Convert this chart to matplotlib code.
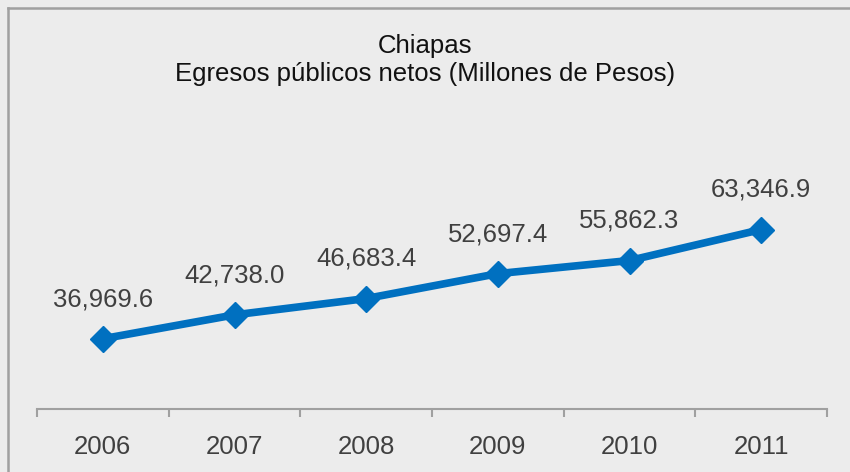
import matplotlib
matplotlib.use('Agg')
import matplotlib.pyplot as plt
from matplotlib.lines import Line2D

# datos
anios = ['2006', '2007', '2008', '2009', '2010', '2011']
egresos = [36969.6, 42738.0, 46683.4, 52697.4, 55862.3, 63346.9]
titulo = 'Chiapas\nEgresos públicos netos (Millones de Pesos)'

plt.rcParams['font.family'] = ['Liberation Sans', 'DejaVu Sans']
fondo = '#ECECEC'
gris_texto = '#404040'

fig = plt.figure(figsize=(8.5, 4.72), dpi=100, facecolor=fondo)
ax = fig.add_axes([37/850, 1 - 409/472, 790/850, 207/472])
ax.set_facecolor(fondo)

x = list(range(len(anios)))
ax.plot(x, egresos, color='#0070C0', linewidth=5.5, marker='D', markersize=13,
        markeredgecolor='#0070C0', markerfacecolor='#0070C0', solid_capstyle='round')

for xi, v in zip(x, egresos):
    ax.annotate(f'{v:,.1f}', (xi, v), xytext=(0, 28.5), textcoords='offset points',
                ha='center', va='center', fontsize=18.5, color=gris_texto)

ax.set_xlim(-0.5, len(anios) - 0.5)
ax.set_ylim(20000, 70000)

# marcas entre categorias, etiquetas centradas
ax.set_xticks([i - 0.5 for i in range(len(anios) + 1)])
ax.set_xticklabels([])
ax.set_xticks(x, minor=True)
ax.set_xticklabels(anios, minor=True, fontsize=18.5, color=gris_texto)
ax.tick_params(axis='x', which='major', length=6, width=1.5, color='#A0A0A0', direction='out')
ax.tick_params(axis='x', which='minor', length=0, pad=19)
ax.set_yticks([])

for lado in ['left', 'right', 'top']:
    ax.spines[lado].set_visible(False)
ax.spines['bottom'].set_color('#A0A0A0')
ax.spines['bottom'].set_linewidth(1.5)

fig.text(0.5, 1 - 60/472, titulo, ha='center', va='center', fontsize=18.5,
         color='#111111', linespacing=1.2)

# borde del grafico
fig.add_artist(Line2D([8/850, 1], [1 - 8/472, 1 - 8/472], color='#A0A0A0', linewidth=1.8,
                      transform=fig.transFigure))
fig.add_artist(Line2D([8/850, 8/850], [0, 1 - 8/472], color='#A0A0A0', linewidth=1.8,
                      transform=fig.transFigure))

fig.savefig('out.png', dpi=100, facecolor=fondo)
